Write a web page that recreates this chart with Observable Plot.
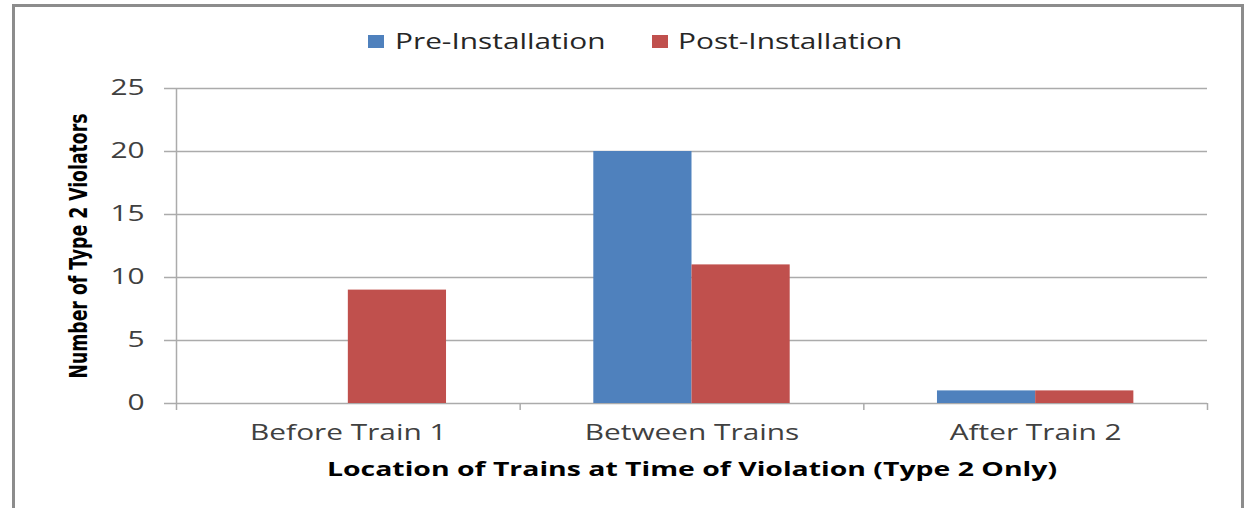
<!DOCTYPE html>
<html>
<head>
<meta charset="utf-8">
<script src="https://cdn.jsdelivr.net/npm/d3@7"></script>
<script src="https://cdn.jsdelivr.net/npm/@observablehq/plot@0.6"></script>
<style>
  html, body { margin: 0; padding: 0; background: #fff; width: 1246px; height: 508px; overflow: hidden; }
  #frame { position: absolute; left: 12px; top: 4px; width: 1226px; height: 600px;
           border: 3px solid #8c8c8c; border-bottom: none; }
  #chart { position: absolute; left: 0; top: 0; }
  #legend { position: absolute; top: 26px; left: 0; width: 1246px; height: 30px;
            font-family: "Open Sans", sans-serif; font-size: 21px; color: #262626; }
  .sw { position: absolute; top: 9px; width: 16px; height: 13px; }
  .lt { position: absolute; top: 0; line-height: 30px; white-space: nowrap;
        transform: scaleX(1.42); transform-origin: left center; }
</style>
</head>
<body>
<div id="frame"></div>
<div id="chart"></div>
<div id="legend"></div>
<script>
const categories = ["Before Train 1", "Between Trains", "After Train 2"];
const series = ["Pre-Installation", "Post-Installation"];
const preValues = [0, 20, 1];
const postValues = [9, 11, 1];
const colors = ["#4F81BD", "#C0504D"];
const yTicks = [0, 5, 10, 15, 20, 25];
const xTitle = "Location of Trains at Time of Violation (Type 2 Only)";
const yTitle = "Number of Type 2 Violators";

// Excel-style clustered column: gap width 150% -> each bar is 1/3.5 of a category
const barFrac = 1 / 3.5;
const rows = [];
categories.forEach((c, i) => {
  rows.push({category: c, series: series[0], value: preValues[i], x1: i + 0.5 - barFrac, x2: i + 0.5});
  rows.push({category: c, series: series[1], value: postValues[i], x1: i + 0.5, x2: i + 0.5 + barFrac});
});

const gridColor = "#ababab";
const stretch = 1.42; // the reference's text is drawn horizontally widened

const plot = Plot.plot({
  width: 1246,
  height: 508,
  marginLeft: 176,
  marginRight: 39,
  marginTop: 88,
  marginBottom: 105,
  style: {fontFamily: "'Open Sans', sans-serif", background: "transparent", overflow: "visible"},
  x: {type: "linear", domain: [0, categories.length]},
  y: {domain: [0, 25]},
  color: {domain: series, range: colors},
  marks: [
    Plot.ruleY(yTicks, {stroke: gridColor, strokeWidth: 1.5}),
    Plot.ruleX([0], {y1: 0, y2: 25, stroke: gridColor, strokeWidth: 1.5}),
    Plot.rectY(rows, {x1: "x1", x2: "x2", y1: 0, y2: "value", fill: "series"}),
    Plot.axisY({ticks: yTicks, tickSize: 12, tickPadding: 20, stroke: gridColor, strokeWidth: 1.5,
                fontSize: 21, color: "#404040", label: null}),
    Plot.axisX({ticks: d3.range(categories.length + 1), tickSize: 7, tickFormat: () => "",
                stroke: gridColor, strokeWidth: 1.5, label: null}),
    Plot.axisX({ticks: categories.map((c, i) => i + 0.5), tickSize: 0, tickPadding: 22,
                tickFormat: (d) => categories[Math.floor(d)], fontSize: 21, color: "#404040", label: null}),
    Plot.text([xTitle], {frameAnchor: "bottom", dy: 66, lineAnchor: "middle", fontSize: 20,
                         fontWeight: "bold", fill: "#000", text: d => d}),
    Plot.text([yTitle], {frameAnchor: "left", dx: -97, rotate: -90, lineAnchor: "middle",
                         textAnchor: "middle", fontSize: 24,
                         fontWeight: "bold", fill: "#000", text: d => d,
                         fontFamily: "'DejaVu Sans Condensed', 'Open Sans', sans-serif",
                         className: "ytitle"})
  ]
});
document.getElementById("chart").appendChild(plot);

// widen horizontal texts like the reference; condense the vertical title to its reference length
plot.querySelectorAll("text").forEach((t) => {
  if (t.closest(".ytitle")) {
    t.setAttribute("textLength", 265);
    t.setAttribute("lengthAdjust", "spacingAndGlyphs");
  } else if (t.textContent.trim() !== "") {
    const len = t.getComputedTextLength();
    t.setAttribute("textLength", (len * stretch).toFixed(1));
    t.setAttribute("lengthAdjust", "spacingAndGlyphs");
  }
});

// legend
const legend = document.getElementById("legend");
const swLeft = [368, 652];
const txLeft = [395, 678];
series.forEach((s, i) => {
  const sw = document.createElement("div");
  sw.className = "sw"; sw.style.left = swLeft[i] + "px"; sw.style.background = colors[i];
  const t = document.createElement("div");
  t.className = "lt"; t.style.left = txLeft[i] + "px"; t.textContent = s;
  legend.appendChild(sw); legend.appendChild(t);
});
</script>
</body>
</html>
